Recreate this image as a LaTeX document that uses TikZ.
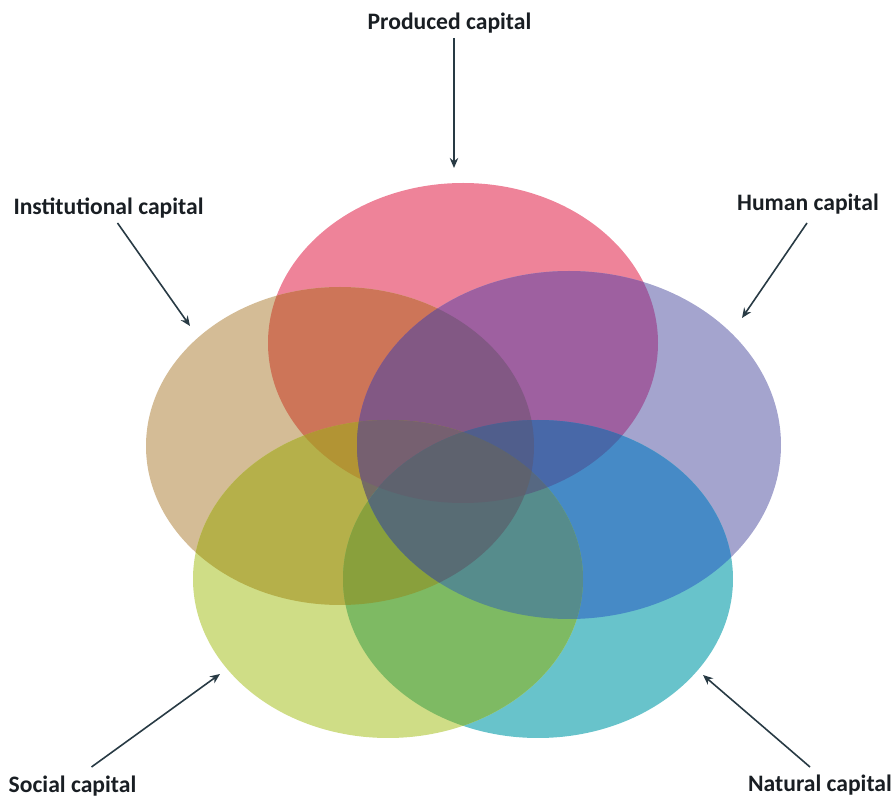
\documentclass[tikz,border=0pt]{standalone}
\usepackage{fontspec}
\setmainfont{Carlito}
\usetikzlibrary{arrows.meta,calc}

% single-set colours
\definecolor{cP}{RGB}{238,131,153}
\definecolor{cI}{RGB}{212,188,150}
\definecolor{cH}{RGB}{164,164,206}
\definecolor{cS}{RGB}{207,221,134}
\definecolor{cN}{RGB}{104,195,203}
% overlap colours
\definecolor{cPI}{RGB}{205,117,88}
\definecolor{cPH}{RGB}{158,96,160}
\definecolor{cIS}{RGB}{181,176,74}
\definecolor{cHN}{RGB}{70,138,198}
\definecolor{cSN}{RGB}{126,186,99}
\definecolor{cPIH}{RGB}{130,88,132}
\definecolor{cPIS}{RGB}{178,148,52}
\definecolor{cPHN}{RGB}{72,104,168}
\definecolor{cIHS}{RGB}{116,108,100}
\definecolor{cISN}{RGB}{137,160,60}
\definecolor{cHSN}{RGB}{86,140,140}
\definecolor{cPIHS}{RGB}{118,96,112}
\definecolor{cPIHN}{RGB}{80,94,140}
\definecolor{cPHSN}{RGB}{86,104,130}
\definecolor{cIHSN}{RGB}{88,108,116}
\definecolor{cPIHSN}{RGB}{94,98,110}
\definecolor{labeltext}{RGB}{25,30,35}
\definecolor{arrowline}{RGB}{40,58,68}

% the five capital sets (pixel grid, y downwards)
\newcommand\shapeP{(463,343) ellipse [x radius=97.5pt, y radius=80pt]}
\newcommand\shapeI{(340,446) ellipse [x radius=97pt, y radius=79.5pt]}
\newcommand\shapeH{(569,445) ellipse [x radius=106pt, y radius=87pt]}
\newcommand\shapeS{(388,579) ellipse [x radius=97.5pt, y radius=79.5pt]}
\newcommand\shapeN{(538,579) ellipse [x radius=97.5pt, y radius=79.5pt]}

\begin{document}
\begin{tikzpicture}[x=0.5pt, y=-0.5pt,
  capname/.style={font=\bfseries\fontsize{11.8}{14}\selectfont, text=labeltext, inner sep=1pt},
  pointarrow/.style={draw=arrowline, line width=0.8pt,
    -{Stealth[length=5pt, width=4.2pt]}}]
\useasboundingbox (0,0) rectangle (896,796);

% single sets
\fill[cP] \shapeP;
\fill[cI] \shapeI;
\fill[cH] \shapeH;
\fill[cN] \shapeN;
\fill[cS] \shapeS;

% pairwise overlaps
\begin{scope}\clip \shapeP; \fill[cPI] \shapeI; \end{scope}
\begin{scope}\clip \shapeP; \fill[cPH] \shapeH; \end{scope}
\begin{scope}\clip \shapeI; \fill[cIS] \shapeS; \end{scope}
\begin{scope}\clip \shapeH; \fill[cHN] \shapeN; \end{scope}
\begin{scope}\clip \shapeS; \fill[cSN] \shapeN; \end{scope}

% triple overlaps
\begin{scope}\clip \shapeP; \clip \shapeI; \fill[cPIH] \shapeH; \end{scope}
\begin{scope}\clip \shapeP; \clip \shapeI; \fill[cPIS] \shapeS; \end{scope}
\begin{scope}\clip \shapeP; \clip \shapeH; \fill[cPHN] \shapeN; \end{scope}
\begin{scope}\clip \shapeI; \clip \shapeH; \fill[cIHS] \shapeS; \end{scope}
\begin{scope}\clip \shapeI; \clip \shapeS; \fill[cISN] \shapeN; \end{scope}
\begin{scope}\clip \shapeH; \clip \shapeS; \fill[cHSN] \shapeN; \end{scope}

% fourfold overlaps
\begin{scope}\clip \shapeP; \clip \shapeI; \clip \shapeH; \fill[cPIHS] \shapeS; \end{scope}
\begin{scope}\clip \shapeP; \clip \shapeI; \clip \shapeH; \fill[cPIHN] \shapeN; \end{scope}
\begin{scope}\clip \shapeP; \clip \shapeH; \clip \shapeS; \fill[cPHSN] \shapeN; \end{scope}
\begin{scope}\clip \shapeI; \clip \shapeH; \clip \shapeS; \fill[cIHSN] \shapeN; \end{scope}

% all five
\begin{scope}\clip \shapeP; \clip \shapeI; \clip \shapeH; \clip \shapeS; \fill[cPIHSN] \shapeN; \end{scope}

% labels
\node[capname, anchor=base] (prod) at (449.5,30)  {Produced capital};
\node[capname, anchor=base] (inst) at (108.5,215) {Institutional capital};
\node[capname, anchor=base] (hum)  at (808,211)   {Human capital};
\node[capname, anchor=base] (soc)  at (72.5,793)  {Social capital};
\node[capname, anchor=base] (nat)  at (820,792)   {Natural capital};

% arrow tips at the ellipses
\coordinate (prodTip) at (454,168);
\coordinate (instTip) at (190,326);
\coordinate (humTip)  at (742,318);
\coordinate (socTip)  at (220,674);
\coordinate (natTip)  at (703,675);

\draw[pointarrow] ($(prod.base)+(4.5,8)$) -- (prodTip);
\draw[pointarrow] ($(inst.base)+(9,8)$)   -- (instTip);
\draw[pointarrow] ($(hum.base)+(-1,12)$)  -- (humTip);
\draw[pointarrow] ($(soc.base)+(19,-26)$) -- (socTip);
\draw[pointarrow] ($(nat.base)+(-10,-25)$) -- (natTip);
\end{tikzpicture}
\end{document}
